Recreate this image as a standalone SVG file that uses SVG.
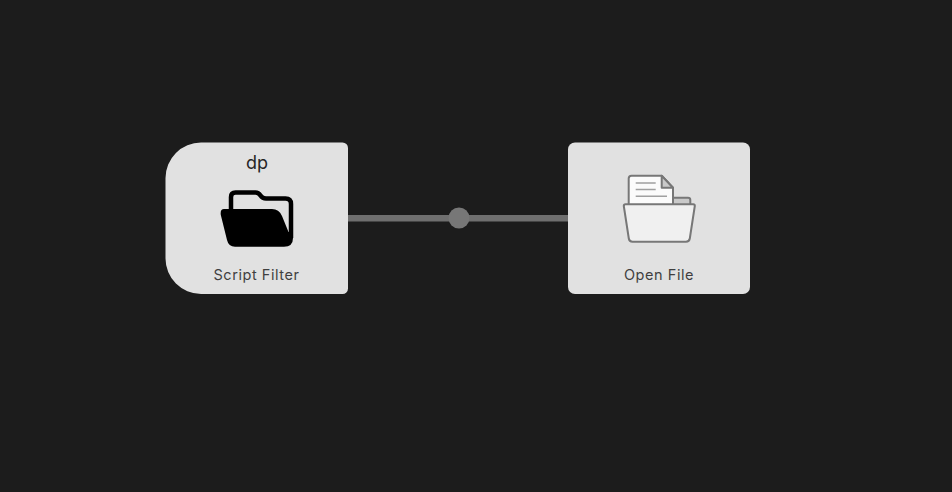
<svg xmlns="http://www.w3.org/2000/svg" width="952" height="492" viewBox="0 0 952 492">
<style>
.card{fill:#e1e1e1}
.lbl{font-family:Inter,"Liberation Sans",sans-serif;font-size:14.5px;letter-spacing:.55px;fill:#3f3f3f;text-anchor:middle}
.kw{font-family:Inter,"Liberation Sans",sans-serif;font-size:18px;fill:#262626;text-anchor:middle}
.ic{stroke:#777;stroke-width:2;stroke-linejoin:round}
</style>
<rect width="952" height="492" fill="#1c1c1c"/>
<g id="connectors">
<line x1="348" y1="218.200" x2="568" y2="218.200" stroke="#6f6f6f" stroke-width="6.500"/>
<circle cx="459" cy="218" r="10.500" fill="#777"/>
</g>
<g id="node-script-filter">
<path class="card" d="M201,142.500H342.500a5.500,5.500 0 0 1 5.500,5.500V288.500a5.500,5.500 0 0 1 -5.500,5.500H201a35.500,35.500 0 0 1 -35.500,-35.500V178a35.500,35.500 0 0 1 35.500,-35.500Z"/>
<text class="kw" x="257" y="169">dp</text>
<path d="M231,211V197Q231,192.500 235.500,192.500H255.500Q258.500,192.500 260.500,195.500Q262.500,198.500 266,198.500H285.500Q291,198.500 291,204V238" fill="none" stroke="#000" stroke-width="4.500"/>
<path d="M224,209H272Q279,209 282,216L288.500,232L293,232V238Q293,246.700 284,246.700H235Q228.500,246.700 227,240L220.800,215Q220,209 224,209Z" fill="#000"/>
<text class="lbl" x="256.500" y="280">Script Filter</text>
</g>
<g id="node-open-file">
<rect class="card" x="568" y="142.500" width="182" height="151.500" rx="7"/>
<path class="ic" d="M690.300,205V200Q690.300,197.700 688,197.700H670V205Z" fill="#c9c9c9"/>
<path class="ic" d="M673,205V187.700L661.700,175.700H631.500Q628.700,175.700 628.700,178.500V205Z" fill="#fbfbfb"/>
<path class="ic" d="M661.700,175.700V187.700H673Z" fill="#c9c9c9"/>
<path d="M635.700,183H655.700M635.700,189.500H655.700M635.700,196.300H667" fill="none" stroke="#a0a0a0" stroke-width="1.500"/>
<path class="ic" d="M625.500,204.300H693.300Q695,204.300 694.800,206L689.800,238.500Q689.300,241.700 686,241.700H632.500Q629.300,241.700 628.800,238.500L623.800,206Q623.600,204.300 625.500,204.300Z" fill="#f0f0f0"/>
<text class="lbl" x="659" y="280">Open File</text>
</g>
</svg>
